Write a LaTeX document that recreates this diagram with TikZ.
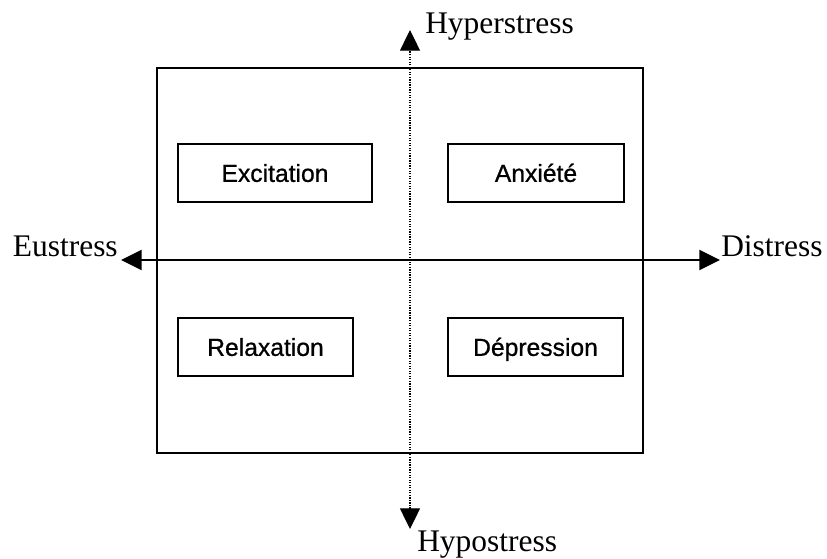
\documentclass[tikz,border=0pt]{standalone}
\usepackage{fontspec}
\setmainfont{Liberation Serif}
\newfontfamily\boxfont[FakeBold=0.8]{Liberation Sans}
\usetikzlibrary{arrows.meta}
\tikzset{
	quadbox/.style={draw,line width=1.6pt,inner sep=0pt,minimum height=43.5pt,text height=13.3pt,text depth=0pt,font=\boxfont\fontsize{18.5}{21}\selectfont},
	axislabel/.style={inner sep=0pt,font=\fontsize{23.6}{26}\selectfont},
	axistip/.style={{Triangle[length=15.5pt,width=15pt]}-{Triangle[length=15.5pt,width=15pt]}}
}
\begin{document}
\begin{tikzpicture}[x=0.75pt,y=-0.75pt]
		\useasboundingbox (0,0) rectangle (827,558);
	
		\draw[line width=1.5pt](157,68) rectangle (643,453);
	
		\coordinate (west) at (121,260);
		\coordinate (east) at (720,260);
		\coordinate (north) at (410,30);
		\coordinate (south) at (410,529);
	
		\draw[line width=1.5pt][axistip](west)--(east);
		\draw[line width=0.9pt][densely dotted][axistip](south)--(north);
	
		\node[quadbox][minimum width=145.5pt] (excitation) at (275,173) {Excitation};
		\node[quadbox][minimum width=132pt] (anxiete) at (536,173) {Anxiété};
		\node[quadbox][minimum width=131pt] (relaxation) at (265.5,347) {Relaxation};
		\node[quadbox][minimum width=131pt] (depression) at (535.5,347) {Dépression};
	
		\node[axislabel][anchor=base west] (hyper) at (425,33) {Hyperstress};
		\node[axislabel][anchor=base west] (hypo) at (417,551) {Hypostress};
		\node[axislabel][anchor=base east] (eu) at (118,256) {Eustress};
		\node[axislabel][anchor=base west] (dis) at (721,256) {Distress};
	
	\end{tikzpicture}
\end{document}
